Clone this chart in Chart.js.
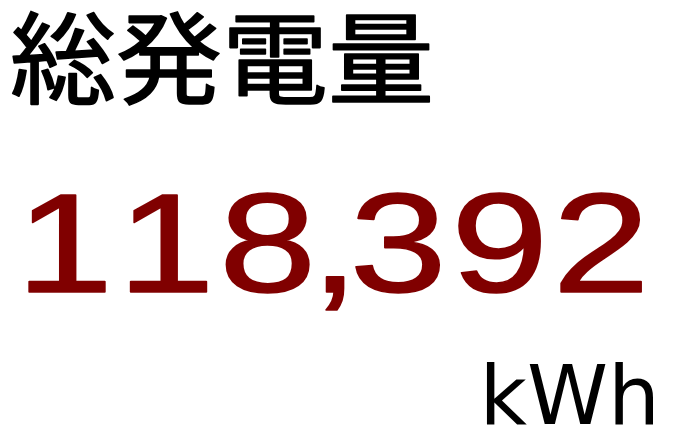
<!DOCTYPE html>
<html><head><meta charset="utf-8">
<script src="https://cdn.jsdelivr.net/npm/chart.js@4.4.1/dist/chart.umd.min.js"></script>
<style>html,body{margin:0;padding:0;background:#fff;overflow:hidden}#wrap{width:674px;height:434px;position:relative}</style>
</head><body><div id="wrap"><canvas id="c"></canvas></div>
<script>
const labels = ['総発電量'];
const values = [118392];
const units = ['kWh'];

function drawTracked(ctx, text, spacing, tightBefore, tightAfter, stroke) {
  let x = 0;
  for (const ch of text) {
    const w = ctx.measureText(ch).width;
    if (ch === ',') x -= tightBefore;
    ctx.fillText(ch, x, 0);
    if (stroke) ctx.strokeText(ch, x, 0);
    x += w + spacing;
    if (ch === ',') x -= tightAfter;
  }
}

const kpiPlugin = {
  id: 'kpi',
  afterDraw(chart) {
    const ctx = chart.ctx;
    ctx.save();
    ctx.textBaseline = 'alphabetic';
    ctx.textAlign = 'left';
    ctx.lineJoin = 'round';

    // title
    ctx.fillStyle = '#000';
    ctx.strokeStyle = '#000';
    ctx.lineWidth = 1.6;
    ctx.font = '100px "Noto Sans CJK JP"';
    ctx.save();
    ctx.translate(10, 96);
    ctx.scale(1.06, 1);
    drawTracked(ctx, labels[0], 0, 0, 0, true);
    ctx.restore();

    // value
    ctx.fillStyle = '#800000';
    ctx.strokeStyle = '#800000';
    ctx.lineWidth = 1.6;
    ctx.font = '141px "Liberation Sans"';
    ctx.save();
    ctx.translate(16, 292);
    ctx.scale(1.24, 1);
    drawTracked(ctx, values[0].toLocaleString('en-US'), 3.4, 8, 11, true);
    ctx.restore();

    // unit
    ctx.fillStyle = '#000';
    ctx.font = '82px "DejaVu Sans"';
    ctx.textAlign = 'right';
    ctx.fillText(units[0], 660, 424);
    ctx.restore();
  }
};

new Chart(document.getElementById('c'), {
  type: 'bar',
  data: { labels: labels, datasets: [{ data: values, backgroundColor: 'rgba(0,0,0,0)', borderWidth: 0 }] },
  options: {
    responsive: true, maintainAspectRatio: false, animation: false,
    layout: { padding: 0 },
    plugins: { legend: { display: false }, tooltip: { enabled: false }, title: { display: false } },
    scales: { x: { display: false }, y: { display: false, beginAtZero: true } }
  },
  plugins: [kpiPlugin]
});
</script></body></html>
